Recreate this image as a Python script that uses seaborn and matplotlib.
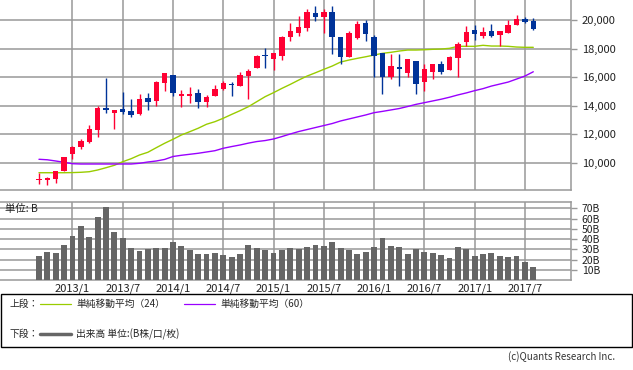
import numpy as np
import pandas as pd
import seaborn as sns
import matplotlib
matplotlib.use('Agg')
from matplotlib import pyplot as plt
from matplotlib.patches import Rectangle
from matplotlib.lines import Line2D
from matplotlib.ticker import FuncFormatter

# monthly candles, 2012/9 .. 2017/8
months = pd.period_range('2012-09', '2017-08', freq='M').strftime('%Y/%-m').tolist()
opens = [8840, 8800, 8900, 9450, 10600, 11100, 11450, 12330, 13870, 13520,
         13770, 13640, 13400, 14530, 14360, 15620, 16140, 14660, 14660, 14870,
         14290, 14710, 15150, 15520, 15400, 16080, 16660, 17480, 17270, 17500,
         18830, 19110, 19460, 20470, 20240, 20560, 18830, 17430, 18760, 19800,
         18830, 17690, 16000, 16690, 16320, 17130, 15690, 16390, 16920, 16520,
         17360, 18480, 19300, 18900, 19230, 18970, 19110, 19670, 20070, 19950]
highs = [9290, 9030, 9460, 10430, 11190, 11700, 12680, 13960, 15950, 13710,
         14950, 14460, 14820, 14870, 15750, 16320, 16160, 15100, 15310, 15170,
         14760, 15450, 15740, 15660, 16370, 16550, 17550, 18020, 17710, 18900,
         19810, 20250, 20790, 20950, 20750, 20950, 18830, 19230, 19950, 20010,
         18950, 17690, 17620, 17620, 17270, 17130, 16940, 16920, 17130, 17500,
         18460, 19600, 19670, 19490, 19720, 19230, 20000, 20370, 20210, 20140]
lows = [8540, 8490, 8620, 9410, 10300, 11000, 11430, 11800, 13520, 12400,
        13450, 13190, 13380, 13710, 13990, 15040, 14700, 13940, 14170, 13870,
        13940, 14700, 15080, 14690, 15400, 14480, 16660, 16670, 16520, 17200,
        18550, 18900, 19250, 19950, 19070, 17620, 16900, 17430, 18650, 18550,
        15990, 14850, 15850, 15410, 16000, 14850, 15060, 15870, 16220, 16520,
        16040, 18180, 18600, 18760, 18830, 18180, 19110, 19670, 19810, 19300]
closes = [8870, 8930, 9450, 10400, 11140, 11560, 12400, 13860, 13710, 13710,
          13590, 13390, 14455, 14290, 15680, 16290, 14910, 14840, 14830, 14300,
          14630, 15160, 15620, 15420, 16170, 16410, 17460, 17450, 17670, 18800,
          19210, 19520, 20560, 20240, 20590, 18830, 17390, 19070, 19750, 19000,
          17500, 16000, 16780, 16600, 17270, 15550, 16570, 16920, 16390, 17430,
          18340, 19160, 19040, 19160, 18900, 19230, 19650, 20070, 19880, 19370]
ma24 = [9320, 9320, 9320, 9320, 9330, 9350, 9390, 9510, 9670, 9840,
        10090, 10300, 10560, 10750, 11070, 11380, 11660, 11960, 12190, 12430,
        12710, 12890, 13130, 13400, 13660, 13940, 14290, 14640, 14920, 15220,
        15500, 15800, 16080, 16310, 16550, 16780, 17060, 17200, 17320, 17430,
        17550, 17670, 17740, 17830, 17900, 17900, 17920, 17950, 17970, 18020,
        18160, 18160, 18160, 18230, 18180, 18180, 18160, 18110, 18090, 18090]
ma60 = [10260, 10225, 10140, 10050, 9950, 9930, 9930, 9930, 9930, 9930,
        9930, 9930, 9980, 10070, 10140, 10250, 10455, 10540, 10610, 10680,
        10770, 10860, 11030, 11150, 11260, 11390, 11500, 11570, 11680, 11850,
        12030, 12200, 12340, 12480, 12620, 12760, 12940, 13080, 13220, 13360,
        13520, 13610, 13710, 13810, 13950, 14100, 14220, 14340, 14460, 14600,
        14760, 14900, 15060, 15200, 15380, 15520, 15660, 15870, 16080, 16380]
# volume, billions of shares
volume = [23.3, 27.2, 26.3, 34.0, 42.8, 52.5, 41.8, 61.3, 71.0, 46.7,
          40.9, 31.1, 28.2, 30.2, 31.1, 31.1, 37.0, 33.1, 29.2, 25.3,
          25.3, 26.3, 24.3, 22.4, 25.3, 34.0, 31.1, 29.2, 26.3, 29.2,
          31.1, 30.2, 32.1, 34.0, 33.1, 37.0, 31.1, 29.2, 25.3, 27.2,
          32.1, 40.9, 33.1, 32.1, 25.3, 30.2, 27.2, 26.3, 24.3, 21.4,
          32.1, 30.2, 23.3, 25.3, 26.3, 23.3, 22.4, 23.3, 17.5, 12.6]
tick_labels = ['2013/1', '2013/7', '2014/1', '2014/7', '2015/1',
               '2015/7', '2016/1', '2016/7', '2017/1', '2017/7']
price_ticks = [10000, 12000, 14000, 16000, 18000, 20000]
vol_ticks = [10, 20, 30, 40, 50, 60, 70]

df = pd.DataFrame({'month': months, 'open': opens, 'high': highs, 'low': lows,
                   'close': closes, 'ma24': ma24, 'ma60': ma60, 'volume': volume})
df['i'] = np.arange(len(df))
tick_pos = [months.index(t) for t in tick_labels]

UP, DOWN = '#ff0033', '#003399'
GRID = '#999999'
W, H = 633, 370

sns.set_style('white')
plt.rcParams['font.family'] = ['Noto Sans CJK JP', 'DejaVu Sans']

fig = plt.figure(figsize=(W / 100, H / 100), dpi=100)
ax = fig.add_axes([0, 1 - 190 / H, 571 / W, 190 / H])
axv = fig.add_axes([0, 1 - 280.3 / H, 571 / W, 78.6 / H])

xlim = (-4.65, 63.5)

# ---- price panel
up = df['close'] >= df['open']
colors = np.where(up, UP, DOWN)
body_lo = np.minimum(df['open'], df['close'])
body_h = np.maximum(np.abs(df['close'] - df['open']), 70)
ax.vlines(df['i'], df['low'], df['high'], colors=colors, lw=1, zorder=4)
ax.bar(df['i'], body_h, bottom=body_lo, color=colors, width=0.65, lw=0, zorder=5)
sns.lineplot(data=df, x='i', y='ma24', color='#99cc00', lw=1, ax=ax, zorder=3)
sns.lineplot(data=df, x='i', y='ma60', color='#9900ff', lw=1, ax=ax, zorder=3)

ax.set_xlim(*xlim)
ax.set_ylim(8112, 21399)
ax.set_xticks(tick_pos)
ax.set_xticklabels([])
ax.set_yticks(price_ticks)
ax.yaxis.tick_right()
ax.yaxis.set_major_formatter(FuncFormatter(lambda v, p: f'{int(v):,}'))
ax.tick_params(axis='x', length=0)
ax.tick_params(axis='y', length=4.3, width=1, color=GRID, pad=3.5,
               labelsize=8, labelcolor='#222222')
ax.grid(True, color=GRID, lw=1.1, zorder=0)
ax.set_axisbelow(True)
ax.set_xlabel('')
ax.set_ylabel('')
for s in ['left', 'top']:
    ax.spines[s].set_visible(False)
for s in ['right', 'bottom']:
    ax.spines[s].set_color(GRID)
    ax.spines[s].set_linewidth(1.1)

# ---- volume panel
sns.barplot(x=df['i'], y=df['volume'], native_scale=True, color='#666666',
            saturation=1, width=0.7, linewidth=0, ax=axv, zorder=3)
axv.set_xlim(*xlim)
axv.set_ylim(0, 76.5)
axv.set_xticks(tick_pos)
axv.set_xticklabels(tick_labels)
axv.set_yticks(vol_ticks)
axv.set_yticklabels([f'{v}B' for v in vol_ticks])
axv.yaxis.tick_right()
axv.tick_params(axis='x', length=0, pad=2, labelsize=8, labelcolor='#222222')
axv.tick_params(axis='y', length=4.3, width=1, color=GRID, pad=3.5,
                labelsize=7.5, labelcolor='#222222')
axv.grid(True, color=GRID, lw=1.1, zorder=0)
axv.set_axisbelow(True)
axv.set_xlabel('')
axv.set_ylabel('')
axv.spines['left'].set_visible(False)
for s in ['right', 'bottom', 'top']:
    axv.spines[s].set_color(GRID)
    axv.spines[s].set_linewidth(1.1)
fig.text(5 / W, 1 - 209 / H, '単位: B', fontsize=7.5, va='center', color='#222222')

# ---- legend box
def fx(x):
    return x / W


def fy(y):
    return 1 - y / H


fig.add_artist(Rectangle((fx(0.5), fy(347)), fx(631.5), 53 / H, transform=fig.transFigure,
                         fill=False, ec='black', lw=1))
row1, row2 = 303.5, 334
fig.text(fx(9), fy(row1), '上段：', fontsize=7, va='center')
fig.add_artist(Line2D([fx(40), fx(71)], [fy(row1)] * 2, color='#99cc00', lw=0.9,
                      transform=fig.transFigure))
fig.text(fx(76), fy(row1), '単純移動平均（24）', fontsize=7, va='center')
fig.add_artist(Line2D([fx(184), fx(215)], [fy(row1)] * 2, color='#9900ff', lw=0.9,
                      transform=fig.transFigure))
fig.text(fx(220), fy(row1), '単純移動平均（60）', fontsize=7, va='center')
fig.text(fx(9), fy(row2), '下段：', fontsize=7, va='center')
fig.add_artist(Line2D([fx(40), fx(71)], [fy(row2)] * 2, color='#666666', lw=2.5,
                      transform=fig.transFigure))
fig.text(fx(76), fy(row2), '出来高 単位:(B株/口/枚)', fontsize=7, va='center')

fig.text(fx(615), fy(357), '(c)Quants Research Inc.', fontsize=7, ha='right',
         va='center', color='#333333')

fig.savefig('out.png', dpi=100)
